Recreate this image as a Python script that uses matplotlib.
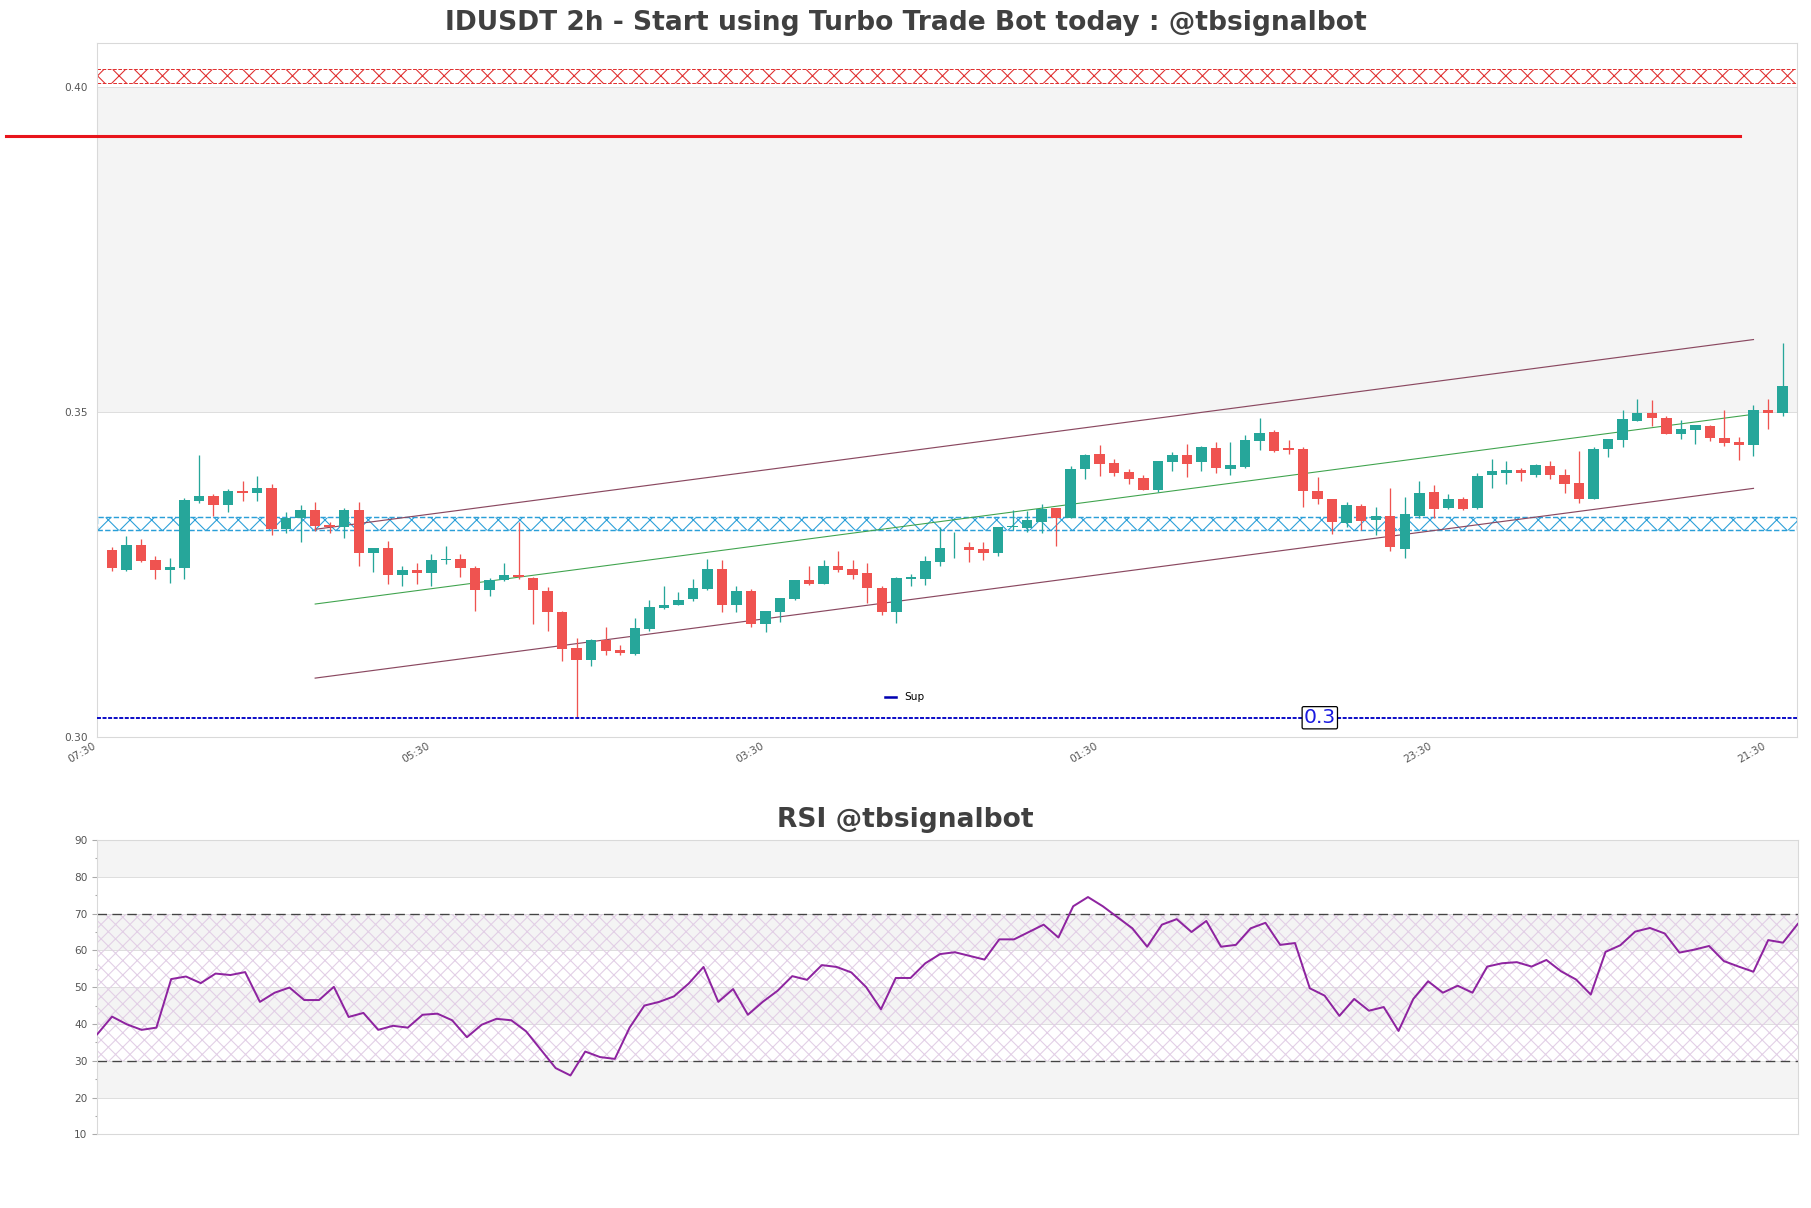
# IDUSDT 2h candles with trend channel, zones and an RSI panel

import matplotlib
matplotlib.use("Agg")
from matplotlib import pyplot as plt
from matplotlib.lines import Line2D
from matplotlib.ticker import FormatStrFormatter, AutoMinorLocator


# candle data (2h bars, oldest first)
opens = [
    0.3288, 0.3257, 0.3296, 0.3273, 0.3258, 0.3261, 0.3363, 0.3371, 0.3358, 0.3379,
    0.3376, 0.3384, 0.3321, 0.3338, 0.3350, 0.3326, 0.3324, 0.3350, 0.3283, 0.3291,
    0.3250, 0.3257, 0.3252, 0.3272, 0.3274, 0.3260, 0.3226, 0.3242, 0.3249, 0.3245,
    0.3225, 0.3193, 0.3137, 0.3119, 0.3149, 0.3134, 0.3128, 0.3166, 0.3199, 0.3204,
    0.3212, 0.3228, 0.3259, 0.3203, 0.3225, 0.3175, 0.3192, 0.3213, 0.3242, 0.3236,
    0.3264, 0.3259, 0.3252, 0.3230, 0.3192, 0.3244, 0.3244, 0.3270, 0.3292, 0.3293,
    0.3290, 0.3283, 0.3323, 0.3322, 0.3332, 0.3353, 0.3337, 0.3413, 0.3436, 0.3422,
    0.3408, 0.3399, 0.3381, 0.3423, 0.3434, 0.3423, 0.3445, 0.3413, 0.3416, 0.3456,
    0.3470, 0.3445, 0.3443, 0.3379, 0.3366, 0.3330, 0.3356, 0.3334, 0.3341, 0.3289,
    0.3341, 0.3377, 0.3353, 0.3366, 0.3353, 0.3403, 0.3407, 0.3411, 0.3404, 0.3417,
    0.3404, 0.3391, 0.3367, 0.3443, 0.3457, 0.3487, 0.3499, 0.3492, 0.3467, 0.3473,
    0.3479, 0.3461, 0.3454, 0.3449, 0.3504, 0.3499,
]
highs = [
    0.3292, 0.3310, 0.3305, 0.3279, 0.3276, 0.3368, 0.3434, 0.3375, 0.3382, 0.3394,
    0.3402, 0.3390, 0.3347, 0.3357, 0.3362, 0.3332, 0.3353, 0.3362, 0.3291, 0.3302,
    0.3264, 0.3268, 0.3282, 0.3295, 0.3282, 0.3264, 0.3245, 0.3268, 0.3332, 0.3246,
    0.3231, 0.3194, 0.3153, 0.3151, 0.3170, 0.3142, 0.3184, 0.3211, 0.3233, 0.3224,
    0.3244, 0.3274, 0.3273, 0.3233, 0.3228, 0.3194, 0.3214, 0.3242, 0.3264, 0.3273,
    0.3287, 0.3273, 0.3268, 0.3232, 0.3247, 0.3251, 0.3279, 0.3323, 0.3316, 0.3300,
    0.3300, 0.3324, 0.3350, 0.3348, 0.3359, 0.3353, 0.3417, 0.3436, 0.3450, 0.3428,
    0.3413, 0.3404, 0.3425, 0.3439, 0.3451, 0.3448, 0.3454, 0.3454, 0.3465, 0.3491,
    0.3473, 0.3457, 0.3446, 0.3401, 0.3366, 0.3362, 0.3359, 0.3354, 0.3383, 0.3369,
    0.3395, 0.3388, 0.3375, 0.3369, 0.3406, 0.3428, 0.3425, 0.3415, 0.3421, 0.3425,
    0.3413, 0.3441, 0.3446, 0.3459, 0.3503, 0.3520, 0.3519, 0.3495, 0.3488, 0.3481,
    0.3481, 0.3503, 0.3462, 0.3511, 0.3520, 0.3606,
]
lows = [
    0.3256, 0.3256, 0.3269, 0.3244, 0.3238, 0.3244, 0.3360, 0.3341, 0.3347, 0.3363,
    0.3364, 0.3312, 0.3315, 0.3301, 0.3317, 0.3315, 0.3307, 0.3264, 0.3255, 0.3236,
    0.3233, 0.3236, 0.3232, 0.3266, 0.3246, 0.3195, 0.3218, 0.3241, 0.3243, 0.3175,
    0.3164, 0.3118, 0.3029, 0.3110, 0.3127, 0.3127, 0.3127, 0.3164, 0.3198, 0.3203,
    0.3210, 0.3227, 0.3193, 0.3193, 0.3169, 0.3162, 0.3177, 0.3211, 0.3235, 0.3236,
    0.3255, 0.3244, 0.3207, 0.3188, 0.3176, 0.3232, 0.3234, 0.3264, 0.3276, 0.3269,
    0.3272, 0.3279, 0.3319, 0.3316, 0.3314, 0.3295, 0.3337, 0.3397, 0.3402, 0.3402,
    0.3389, 0.3381, 0.3377, 0.3409, 0.3401, 0.3409, 0.3407, 0.3404, 0.3415, 0.3442,
    0.3439, 0.3436, 0.3355, 0.3359, 0.3313, 0.3324, 0.3319, 0.3312, 0.3287, 0.3276,
    0.3337, 0.3337, 0.3352, 0.3350, 0.3352, 0.3384, 0.3389, 0.3395, 0.3401, 0.3398,
    0.3376, 0.3360, 0.3366, 0.3432, 0.3447, 0.3486, 0.3479, 0.3467, 0.3459, 0.3451,
    0.3456, 0.3448, 0.3426, 0.3433, 0.3474, 0.3495,
]
closes = [
    0.3260, 0.3296, 0.3271, 0.3258, 0.3262, 0.3365, 0.3371, 0.3358, 0.3379, 0.3376,
    0.3384, 0.3321, 0.3338, 0.3350, 0.3325, 0.3323, 0.3350, 0.3283, 0.3291, 0.3250,
    0.3257, 0.3253, 0.3273, 0.3275, 0.3260, 0.3226, 0.3242, 0.3249, 0.3246, 0.3226,
    0.3193, 0.3136, 0.3119, 0.3150, 0.3133, 0.3129, 0.3168, 0.3201, 0.3204, 0.3211,
    0.3230, 0.3259, 0.3203, 0.3225, 0.3174, 0.3194, 0.3214, 0.3242, 0.3236, 0.3264,
    0.3258, 0.3250, 0.3229, 0.3193, 0.3245, 0.3247, 0.3271, 0.3291, 0.3293, 0.3288,
    0.3283, 0.3324, 0.3324, 0.3334, 0.3352, 0.3337, 0.3413, 0.3434, 0.3421, 0.3407,
    0.3397, 0.3381, 0.3425, 0.3434, 0.3421, 0.3447, 0.3414, 0.3419, 0.3457, 0.3468,
    0.3441, 0.3442, 0.3379, 0.3366, 0.3332, 0.3357, 0.3333, 0.3341, 0.3292, 0.3344,
    0.3376, 0.3352, 0.3366, 0.3351, 0.3402, 0.3409, 0.3412, 0.3406, 0.3419, 0.3403,
    0.3390, 0.3367, 0.3444, 0.3459, 0.3490, 0.3499, 0.3492, 0.3467, 0.3474, 0.3480,
    0.3461, 0.3453, 0.3449, 0.3504, 0.3499, 0.3540,
]

rsi = [
    37.2, 42.0, 39.9, 38.4, 39.0, 52.2, 52.9, 51.1, 53.7, 53.3,
    54.1, 46.0, 48.5, 49.9, 46.5, 46.5, 50.1, 41.9, 43.0, 38.4,
    39.5, 39.0, 42.5, 42.8, 41.0, 36.4, 39.8, 41.4, 41.0, 38.0,
    33.0, 28.0, 26.0, 32.5, 31.0, 30.5, 39.0, 45.0, 46.0, 47.5,
    51.0, 55.5, 46.0, 49.5, 42.5, 46.0, 49.0, 53.0, 52.0, 56.0,
    55.5, 54.0, 50.0, 44.0, 52.5, 52.5, 56.5, 59.0, 59.5, 58.5,
    57.5, 63.0, 63.0, 65.0, 67.0, 63.5, 72.0, 74.5, 72.0, 69.0,
    66.0, 61.0, 67.0, 68.5, 65.0, 68.0, 61.0, 61.5, 66.0, 67.5,
    61.5, 62.0, 49.7, 47.7, 42.2, 46.8, 43.6, 44.6, 38.1, 46.8,
    51.6, 48.5, 50.4, 48.5, 55.6, 56.5, 56.8, 55.6, 57.4, 54.3,
    52.1, 48.0, 59.6, 61.4, 65.1, 66.1, 64.6, 59.4, 60.2, 61.2,
    57.1, 55.6, 54.2, 62.8, 62.1, 67.2,
]

tick_pos = [-1, 22, 45, 68, 91, 114]
tick_labels = ["07:30", "05:30", "03:30", "01:30", "23:30", "21:30"]

support = 0.303
resistance = 0.3925
resistance_x = [-7.3, 112.1]
sup_zone = [0.3319, 0.3339]
res_zone = [0.4007, 0.4028]

# regression channel, from bar 14 to bar 113
channel_x = [14, 113]
channel_upper = [0.3320, 0.3612]
channel_mid = [0.3205, 0.3497]
channel_lower = [0.3091, 0.3383]

UP = "#26a69a"
DOWN = "#ef5350"
GREY_TXT = "#555555"
SPINE = "#d9d9d9"
DPI = 130

plt.rcParams["hatch.linewidth"] = 0.6


# alternate white / light grey between major ticks
def shade_bands(ax, edges, grey_first):
    for k in range(len(edges) - 1):
        if (k % 2 == 0) == grey_first:
            ax.axhspan(edges[k], edges[k + 1], color="#f4f4f4", lw=0, zorder=0)
    for e in edges:
        ax.axhline(e, color="#dedede", lw=0.55, zorder=0.5)


def style_axes(ax):
    for s in ax.spines.values():
        s.set_color(SPINE)
        s.set_linewidth(0.6)
    ax.tick_params(colors=GREY_TXT, labelsize=5.8)


def draw_candles(ax):
    x = list(range(len(opens)))
    colors = [UP if c >= o else DOWN for o, c in zip(opens, closes)]
    bottoms = [min(o, c) for o, c in zip(opens, closes)]
    heights = [max(abs(c - o), 0.00015) for o, c in zip(opens, closes)]
    ax.vlines(x, lows, highs, colors=colors, lw=0.72, zorder=3)
    ax.bar(x, heights, width=0.72, bottom=bottoms, color=colors, lw=0, zorder=3.5)


fig = plt.figure(figsize=(1811 / DPI, 1208 / DPI), dpi=DPI)
ax = fig.add_axes([0.0537, 0.3897, 0.9386, 0.5745])
ax2 = fig.add_axes([0.0537, 0.0610, 0.9390, 0.2436])

# price panel
ax.set_xlim(-1, 116)
ax.set_ylim(0.300, 0.4068)
shade_bands(ax, [0.30, 0.35, 0.40, 0.4068], False)

ax.axhspan(res_zone[0], res_zone[1], fill=False, hatch="xx", edgecolor="#e03030",
           lw=0.55, ls="--", zorder=1)
ax.axhspan(sup_zone[0], sup_zone[1], fill=False, hatch="xx", edgecolor="#2a9fd8",
           lw=0.8, ls="--", zorder=1)

ax.plot(channel_x, channel_upper, color="#8a4860", lw=0.65, zorder=2)
ax.plot(channel_x, channel_lower, color="#8a4860", lw=0.65, zorder=2)
ax.plot(channel_x, channel_mid, color="#3fa34d", lw=0.6, zorder=2)

draw_candles(ax)

ax.axhline(support, color="#1010c8", lw=1.1, ls=(0, (2, 0.8)), zorder=4)
ax.plot(resistance_x, [resistance, resistance], color="#e8141c", lw=1.7,
        clip_on=False, zorder=4)
ax.text(83.15, support, f"{support:.1f}", color="#1a1ae0", fontsize=11.2,
        ha="center", va="center", zorder=6,
        bbox=dict(boxstyle="round,pad=0.08", fc="white", ec="black", lw=0.7))

ax.legend(handles=[Line2D([0], [0], color="#0000b0", lw=1.4)], labels=["Sup"],
          loc="center", bbox_to_anchor=(0.4752, 0.0576), frameon=False,
          fontsize=5.8, handlelength=1.0, handletextpad=0.8)

ax.set_yticks([0.30, 0.35, 0.40])
ax.yaxis.set_major_formatter(FormatStrFormatter("%.2f"))
ax.set_xticks(tick_pos, tick_labels, rotation=30, ha="right")
style_axes(ax)
ax.tick_params(length=0)
ax.tick_params(axis="y", pad=5.3)
ax.tick_params(axis="x", pad=2.0)

# rsi panel
ax2.set_xlim(0, len(rsi) - 1)
ax2.set_ylim(10, 90)
shade_bands(ax2, list(range(10, 91, 10)), False)
ax2.axhspan(30, 70, fill=False, hatch="xxx", edgecolor="#e2cfe6", lw=0, zorder=0.8)
ax2.axhline(70, color="#444444", lw=0.75, ls=(0, (7, 4)), zorder=1)
ax2.axhline(30, color="#444444", lw=0.75, ls=(0, (7, 4)), zorder=1)
ax2.plot(range(len(rsi)), rsi, color="#8e24a0", lw=1.1, zorder=3)

ax2.set_yticks(list(range(10, 91, 10)))
ax2.yaxis.set_minor_locator(AutoMinorLocator(2))
ax2.set_xticks([])
style_axes(ax2)
ax2.tick_params(axis="y", which="major", length=2.6, width=0.6, color="#aaaaaa", pad=2.9)
ax2.tick_params(axis="y", which="minor", length=1.3, width=0.6, color="#aaaaaa")

# titles sit at the figure centre
fig.text(0.5, 0.981, "IDUSDT 2h - Start using Turbo Trade Bot today : @tbsignalbot",
         fontsize=14.7, fontweight="bold", color="#404040", ha="center", va="center")
fig.text(0.5, 0.3212, "RSI @tbsignalbot",
         fontsize=14.7, fontweight="bold", color="#404040", ha="center", va="center")

fig.savefig("out.png", dpi=DPI)
plt.close(fig)
